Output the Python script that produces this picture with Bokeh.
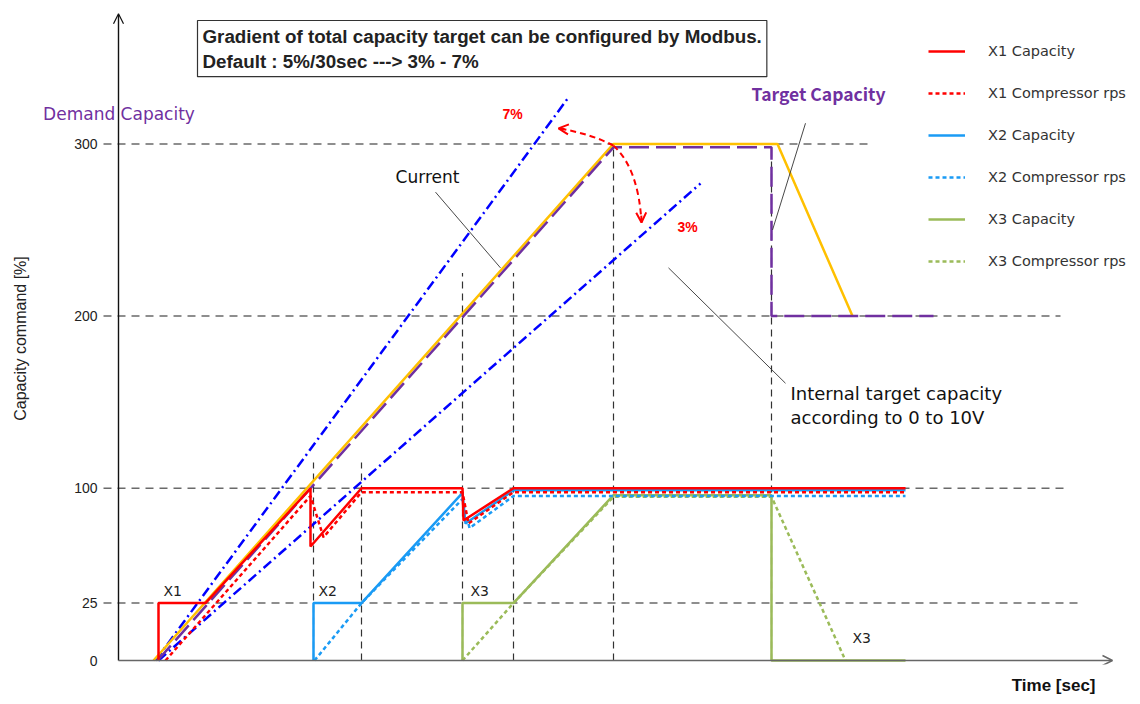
import numpy as np
from bokeh.plotting import figure
from bokeh.models import Range1d, FixedTicker, Legend, LegendItem, Label, Arrow, OpenHead, Title
from bokeh.embed import file_html
from bokeh.resources import INLINE

# ---------------- data (time in arbitrary units, capacity in %) ----------------
cap_levels = [0, 25, 100, 200, 300]          # y tick values (non-linear axis)
cap_units = [0, 1, 3, 6, 9]                  # their positions on the drawn axis
tick_labels = ["0", "25", "100", "200", "300"]

grid_levels = [25, 100, 200, 300]
grid_end = [95.9, 94.7, 94.2, 75.0]

mark_times = [19.5, 24.3, 34.4, 39.5, 49.5, 65.3]
mark_tops = [115, 115, 225, 225, 300, 299]

t_current = [3.5, 49.5, 65.9, 73.4]
v_current = [0, 300, 300, 200]
t_target = [3.9, 49.5, 65.3, 65.3, 81.5]
v_target = [0, 298, 298, 200, 200]
t_grad7 = [3.7, 45.0]
v_grad7 = [0, 327]
t_grad3 = [4.0, 58.2]
v_grad3 = [0, 277]

t_x1_cap = [4.0, 4.0, 8.7, 19.2, 19.2, 24.3, 34.4, 34.5, 39.5, 78.7]
v_x1_cap = [0, 25, 25, 100, 62, 100, 100, 79, 100, 100]
t_x1_rps = [4.7, 19.2, 20.5, 24.3, 34.4, 35.0, 39.5, 78.7]
v_x1_rps = [0, 95, 68, 97.5, 97.5, 77, 97.5, 97.5]
t_x2_cap = [19.5, 19.5, 24.3, 34.4, 34.7, 39.5, 78.7]
v_x2_cap = [0, 25, 25, 97, 77, 98.7, 98.7]
t_x2_rps = [19.6, 24.3, 34.4, 35.1, 39.5, 78.7]
v_x2_rps = [0, 25, 93, 74, 95, 95]
t_x3_cap = [34.4, 34.4, 39.5, 49.5, 65.3, 65.3, 78.7]
v_x3_cap = [0, 25, 25, 95.5, 95.5, 0, 0]
t_x3_rps = [34.4, 39.5, 49.5, 65.3, 72.7]
v_x3_rps = [0, 25, 94.5, 94.5, 0]

t_axis_end = 99.4


def yu(v):
    v = np.asarray(v, dtype=float)
    u = np.interp(v, cap_levels, cap_units)
    u = np.where(v > 300, 9 + (v - 300) * 3 / 100.0, u)
    u = np.where(v < 0, v / 25.0, u)
    return u


PX_Y = 57.4
U_TOP = 648 / PX_Y
p = figure(width=1132, height=704, output_backend="svg", toolbar_location=None,
           x_range=Range1d(-8.2, 101.4), y_range=Range1d(-4 / PX_Y, U_TOP),
           min_border_left=36, min_border_right=0, min_border_top=12, min_border_bottom=40)
p.xaxis.visible = False
p.xgrid.visible = False
p.ygrid.visible = False
p.outline_line_color = None
p.background_fill_color = "white"
p.border_fill_color = "white"

ya = p.yaxis[0]
ya.ticker = FixedTicker(ticks=cap_units)
ya.major_label_overrides = {u: s for u, s in zip(cap_units, tick_labels)}
ya.axis_line_color = None
ya.major_tick_line_color = None
ya.minor_tick_line_color = None
ya.major_tick_out = 0
ya.major_tick_in = 0
ya.major_label_standoff = -61
ya.major_label_text_font = "Liberation Sans"
ya.major_label_text_font_size = "14px"
ya.major_label_text_color = "#222222"
ya.axis_label = "Capacity command [%]"
ya.axis_label_text_font = "Liberation Sans"
ya.axis_label_text_font_size = "16px"
ya.axis_label_text_font_style = "normal"
ya.axis_label_text_color = "#222222"
ya.axis_label_standoff = 42

p.add_layout(Title(text="Time [sec]", align="right", offset=37, standoff=19,
                   text_font="Liberation Sans", text_font_size="17px", text_font_style="bold",
                   text_color="#111111"), "below")

# reference grid lines
p.segment(x0=[-1.5] * len(grid_levels), y0=yu(grid_levels), x1=grid_end, y1=yu(grid_levels),
          line_color="#6a6a6a", line_width=1.5, line_dash="8 6")
p.segment(x0=mark_times, y0=[0] * len(mark_times), x1=mark_times, y1=yu(mark_tops),
          line_color="#333333", line_width=1.2, line_dash="7 5")

# gradient lines
p.line(t_grad7, yu(v_grad7), line_color="#0000FF", line_width=2.5, line_dash="10 4 2 4")
p.line(t_grad3, yu(v_grad3), line_color="#0000FF", line_width=2.5, line_dash="10 4 2 4")

# current & target
p.line(t_current, yu(v_current), line_color="#FFC000", line_width=2.5)
p.line(t_target, yu(v_target), line_color="#7030A0", line_width=2.5, line_dash="20 7")

# units
GREEN = "#9BBB59"
BLUE = "#1A9BF5"
RED = "#FF0000"
r3c = p.line(t_x3_cap, yu(v_x3_cap), line_color=GREEN, line_width=2.5)
r3r = p.line(t_x3_rps, yu(v_x3_rps), line_color=GREEN, line_width=2.5, line_dash="4 3")
r2c = p.line(t_x2_cap, yu(v_x2_cap), line_color=BLUE, line_width=2.5)
r2r = p.line(t_x2_rps, yu(v_x2_rps), line_color=BLUE, line_width=2.5, line_dash="4 3")
r1r = p.line(t_x1_rps, yu(v_x1_rps), line_color=RED, line_width=2.5, line_dash="4 3")
r1c = p.line(t_x1_cap, yu(v_x1_cap), line_color=RED, line_width=2.5)

# axes arrows
p.add_layout(Arrow(end=OpenHead(size=10, line_color="#111111", line_width=1.2),
                   x_start=0, y_start=0, x_end=0, y_end=U_TOP - 0.02,
                   line_color="#111111", line_width=1.4))
p.add_layout(Arrow(end=OpenHead(size=10, line_color="#666666", line_width=1.4),
                   x_start=0, y_start=0, x_end=t_axis_end, y_end=0,
                   line_color="#666666", line_width=1.6))

# curved red arrows (gradient range)
p.quadratic(x0=[49.5, 49.5], y0=[8.97, 8.97], x1=[44.0, 52.3], y1=[9.27, 7.63],
            cx=[47.2, 52.0], cy=[9.18, 8.57], line_color=RED, line_width=2, line_dash="6 4")
p.add_layout(Arrow(end=OpenHead(size=10, line_color=RED, line_width=2),
                   x_start=44.6, y_start=9.26, x_end=44.0, y_end=9.27, line_color=RED, line_width=2))
p.add_layout(Arrow(end=OpenHead(size=10, line_color=RED, line_width=2),
                   x_start=52.28, y_start=7.75, x_end=52.3, y_end=7.63, line_color=RED, line_width=2))

# leader lines
p.segment(x0=[31.7, 68.7, 55.0], y0=yu([272, 312, 228]), x1=[38.2, 65.4, 66.7], y1=yu([228, 250, 161]),
          line_color="#333333", line_width=0.9)

# legend
legend = Legend(items=[
    LegendItem(label="X1 Capacity", renderers=[r1c]),
    LegendItem(label="X1 Compressor rps", renderers=[r1r]),
    LegendItem(label="X2 Capacity", renderers=[r2c]),
    LegendItem(label="X2 Compressor rps", renderers=[r2r]),
    LegendItem(label="X3 Capacity", renderers=[r3c]),
    LegendItem(label="X3 Compressor rps", renderers=[r3r]),
], location=(892, 393), glyph_width=37, glyph_height=20, label_height=20, spacing=22,
    padding=0, margin=0, label_standoff=23, border_line_color=None, background_fill_alpha=0,
    label_text_font_size="14.5px", label_text_color="#333333", label_text_font="DejaVu Sans")
p.add_layout(legend)


def lab(text, t, u, size="15px", color="#222222", style="normal", align="left",
        font="DejaVu Sans", baseline="middle"):
    p.add_layout(Label(x=t, y=u, text=text, text_font=font, text_font_size=size,
                       text_color=color, text_font_style=style, text_align=align,
                       text_baseline=baseline))


# title box
p.add_layout(Label(x=7.9, y=(660 - 20) / PX_Y, anchor="top_left",
                   text="Gradient of total capacity target can be configured by Modbus.\nDefault : 5%/30sec ---> 3% - 7%",
                   text_font="Liberation Sans", text_font_size="18.8px", text_font_style="bold",
                   text_color="#222222", text_line_height=1.2, padding=5,
                   border_line_color="#333333", border_line_width=1.2, background_fill_color="white"))

lab("Demand Capacity", 0.05, float(yu(317.6)), size="17px", color="#7030A0", align="center")
lab("Target Capacity", 70.0, float(yu(329)), size="17.5px", color="#7030A0", style="bold",
    align="center", font="Noto Sans CJK JP")
lab("Current", 30.9, float(yu(281)), size="17px", color="#111111", align="center")
lab("7%", 39.4, float(yu(317.6)), size="14px", color=RED, style="bold", align="center", font="Liberation Sans")
lab("3%", 56.9, float(yu(252)), size="14px", color=RED, style="bold", align="center", font="Liberation Sans")
lab("Internal target capacity", 67.2, float(yu(155)), size="18px", color="#111111")
lab("according to 0 to 10V", 67.2, float(yu(141)), size="18px", color="#111111")
lab("X1", 4.5, float(yu(33)), size="14px")
lab("X2", 20.0, float(yu(33)), size="14px")
lab("X3", 35.2, float(yu(33)), size="14px")
lab("X3", 73.4, float(yu(10)), size="14px")

open("out.html", "w").write(file_html(p, INLINE))
